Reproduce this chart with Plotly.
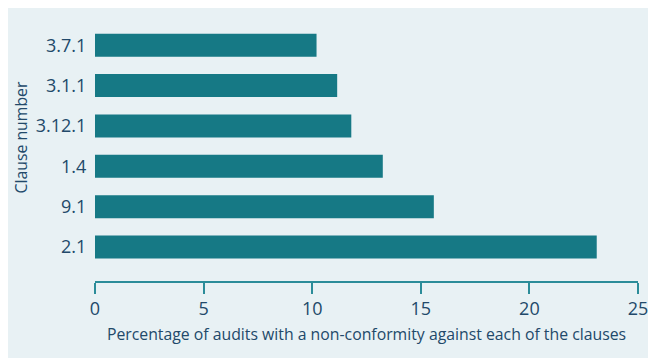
import plotly.graph_objects as go

clauses = ["2.1", "9.1", "1.4", "3.12.1", "3.1.1", "3.7.1"]
percentages = [23.1, 15.6, 13.25, 11.8, 11.15, 10.2]
x_ticks = [0, 5, 10, 15, 20, 25]

W, H = 656, 358
L, R, T, B = 87, 26, 17, 85
pw, ph = W - L - R, H - T - B

text_color = "#22496A"
bar_color = "#167985"
bg_color = "#E8F1F4"
axis_color = "#2B8C99"
font_family = "'Open Sans', Lato, sans-serif"

fig = go.Figure()
fig.add_trace(go.Bar(
    x=percentages, y=clauses, orientation="h",
    marker=dict(color=bar_color, line=dict(width=0)),
    width=0.57,
))

fig.update_layout(
    width=W, height=H,
    margin=dict(l=L, r=R, t=T, b=B, pad=0),
    paper_bgcolor=bg_color,
    plot_bgcolor=bg_color,
    showlegend=False,
    font=dict(family=font_family, color=text_color),
    xaxis=dict(
        range=[0, 25], tickvals=x_ticks, ticktext=[str(v) for v in x_ticks],
        showgrid=False, zeroline=False,
        showline=True, linecolor=axis_color, linewidth=1.5,
        ticks="outside", ticklen=11, tickwidth=1.5, tickcolor=axis_color,
        tickfont=dict(size=18, color=text_color),
        title=dict(text="Percentage of audits with a non-conformity against each of the clauses",
                   font=dict(size=15.8, color=text_color), standoff=10),
        fixedrange=True,
    ),
    yaxis=dict(
        type="category", categoryorder="array", categoryarray=clauses,
        range=[-0.84, 5.5],
        showgrid=False, zeroline=False, showline=False,
        ticks="outside", ticklen=4, tickcolor="rgba(0,0,0,0)",
        tickfont=dict(size=18, color=text_color),
        fixedrange=True,
    ),
    annotations=[dict(
        text="Clause number", xref="paper", yref="paper",
        x=(12 - L) / pw, y=(T + ph - 129.5) / ph,
        xanchor="center", yanchor="middle", textangle=-90,
        showarrow=False, font=dict(size=15.8, color=text_color),
    )],
)

fig.write_html("out.html")
